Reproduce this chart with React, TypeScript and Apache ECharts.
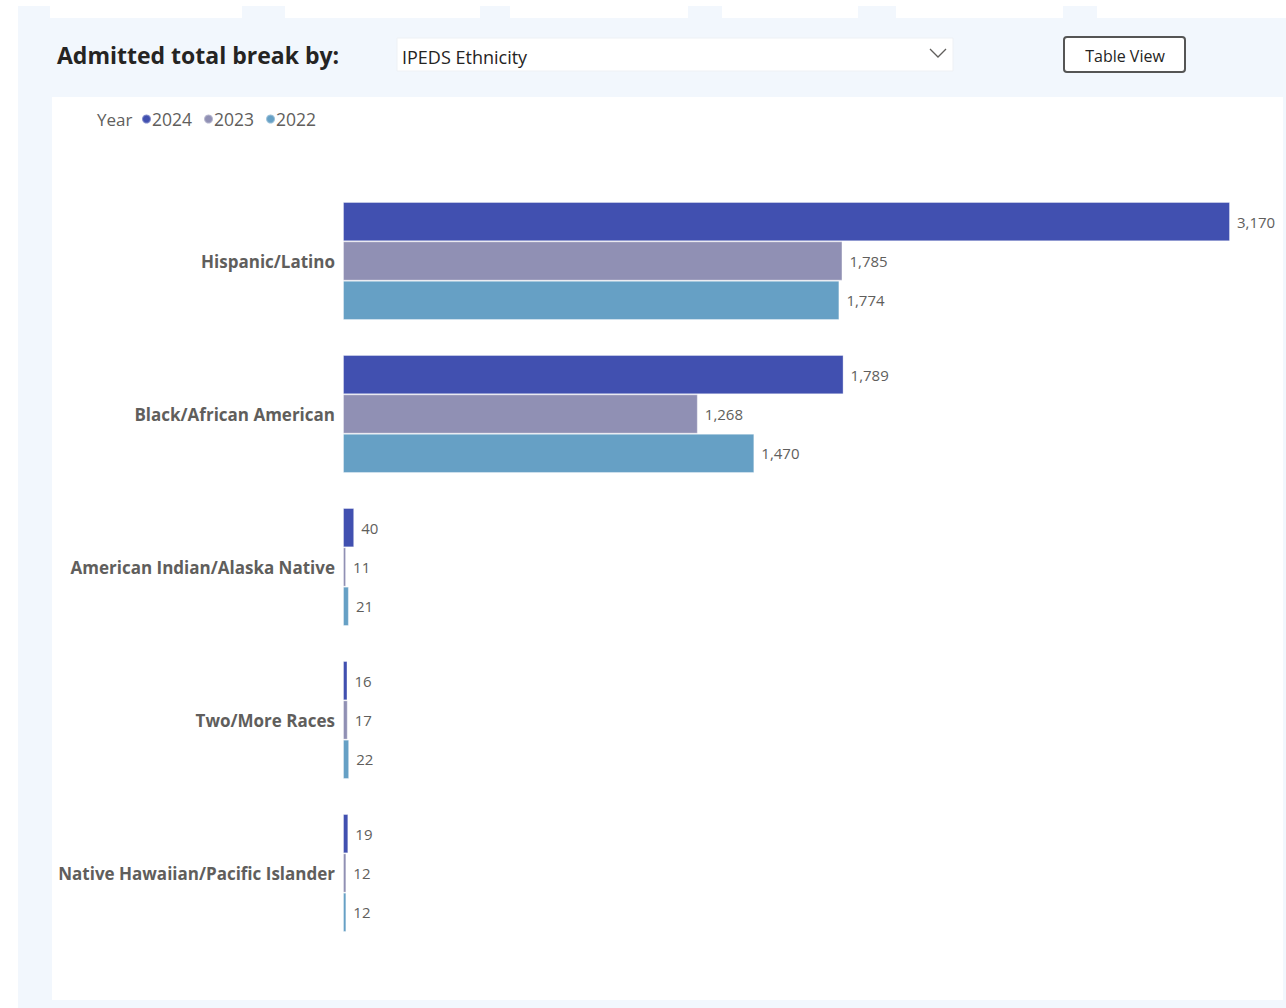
import React, { useEffect, useRef } from "react";
import * as echarts from "echarts";

const categories = [
  "Hispanic/Latino",
  "Black/African American",
  "American Indian/Alaska Native",
  "Two/More Races",
  "Native Hawaiian/Pacific Islander",
];
const years = ["2024", "2023", "2022"];
const values2024 = [3170, 1789, 40, 16, 19];
const values2023 = [1785, 1268, 11, 17, 12];
const values2022 = [1774, 1470, 21, 22, 12];
const colors = ["#4150B0", "#9090B4", "#66A0C5"];

const FONT = "'Open Sans', 'Noto Sans', sans-serif";

export default function App() {
  const ref = useRef<HTMLDivElement>(null);
  useEffect(() => {
    if (!ref.current) return;
    const chart = echarts.init(ref.current, undefined, { renderer: "svg" });
    const seriesData = [values2024, values2023, values2022];
    const tabs = [
      [50, 242],
      [285, 480],
      [510, 688],
      [722, 858],
      [896, 1063],
      [1097, 1286],
    ];
    chart.setOption({
      animation: false,
      backgroundColor: "#ffffff",
      textStyle: { fontFamily: FONT },
      graphic: [
        { type: "rect", z: -10, silent: true, shape: { x: 18, y: 6, width: 1268, height: 1002 }, style: { fill: "#F2F7FD" } },
        ...tabs.map(([a, b]) => ({
          type: "rect",
          z: -9,
          silent: true,
          shape: { x: a, y: 6, width: b - a, height: 12 },
          style: { fill: "#ffffff" },
        })),
        { type: "rect", z: -9, silent: true, shape: { x: 52, y: 97, width: 1231, height: 903 }, style: { fill: "#ffffff" } },
        {
          type: "text",
          x: 57,
          y: 55,
          style: { text: "Admitted total break by:", fill: "#252423", font: `bold 23px ${FONT}`, verticalAlign: "middle" },
        },
        { type: "rect", shape: { x: 397, y: 38, width: 556, height: 33 }, style: { fill: "#ffffff", stroke: "#EEF1F5", lineWidth: 1 } },
        {
          type: "text",
          x: 402,
          y: 57,
          style: { text: "IPEDS Ethnicity", fill: "#252423", font: `18px ${FONT}`, verticalAlign: "middle" },
        },
        {
          type: "polyline",
          shape: { points: [[930, 49], [938, 57], [946, 49]] },
          style: { stroke: "#605E5C", lineWidth: 1.3, fill: "none" },
        },
        {
          type: "rect",
          shape: { x: 1064, y: 37, width: 121, height: 35, r: 3 },
          style: { fill: "#ffffff", stroke: "#555555", lineWidth: 2 },
        },
        {
          type: "text",
          x: 1125,
          y: 56,
          style: { text: "Table View", fill: "#252423", font: `16px ${FONT}`, align: "center", verticalAlign: "middle" },
        },
        {
          type: "text",
          x: 97,
          y: 119,
          style: { text: "Year", fill: "#605E5C", font: `17px ${FONT}`, verticalAlign: "middle" },
        },
      ],
      legend: {
        left: 141,
        top: 110,
        icon: "circle",
        itemWidth: 9,
        itemHeight: 9,
        itemGap: 11,
        padding: 0,
        data: years,
        textStyle: { color: "#605E5C", fontSize: 17.5, fontFamily: FONT, padding: [0, 0, 0, -4] },
      },
      grid: { left: 343, top: 184.5, width: 887, height: 765, containLabel: false },
      xAxis: { type: "value", min: 0, max: 3170, show: false },
      yAxis: {
        type: "category",
        data: categories,
        inverse: true,
        axisLine: { show: false },
        axisTick: { show: false },
        axisLabel: { color: "#605E5C", fontSize: 17, fontWeight: "bold", fontFamily: FONT, margin: 8 },
      },
      series: years.map((y, i) => ({
        name: y,
        type: "bar",
        data: seriesData[i],
        barGap: "0%",
        barCategoryGap: "22.9%",
        itemStyle: { color: colors[i], borderColor: "rgba(255,255,255,0.35)", borderWidth: 1 },
        label: {
          show: true,
          position: "right",
          distance: 7,
          color: "#605E5C",
          fontSize: 15,
          fontFamily: FONT,
          formatter: (p: any) => Number(p.value).toLocaleString("en-US"),
        },
      })),
    });
    return () => chart.dispose();
  }, []);
  return (
    <div
      ref={ref}
      style={{ position: "fixed", left: 0, top: 0, width: 1286, height: 1008 }}
    />
  );
}
